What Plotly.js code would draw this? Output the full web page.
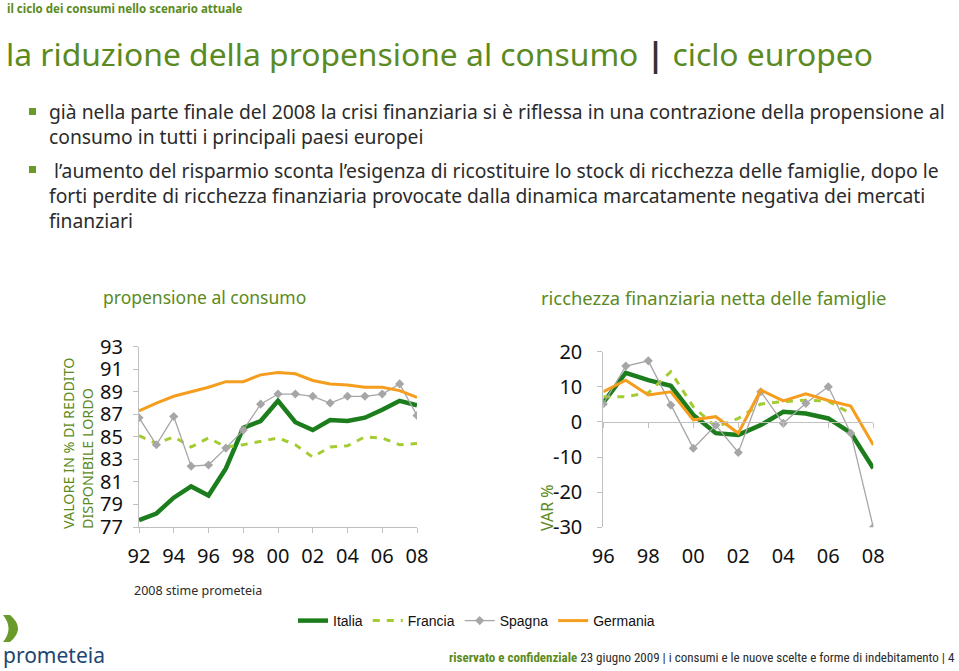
<!DOCTYPE html>
<html>
<head>
<meta charset="utf-8">
<script src="https://cdn.plot.ly/plotly-3.0.1.min.js"></script>
<style>
html,body{margin:0;padding:0;background:#fff;}
#chart{width:959px;height:671px;}
</style>
</head>
<body>
<div id="chart"></div>
<script>
// ---- data ----
const yearsLeft = [1992,1993,1994,1995,1996,1997,1998,1999,2000,2001,2002,2003,2004,2005,2006,2007,2008];
const italiaLeft   = [77.6,78.2,79.6,80.6,79.8,82.2,85.8,86.4,88.2,86.3,85.6,86.5,86.4,86.7,87.4,88.2,87.8];
const franciaLeft  = [85.1,84.4,85.0,84.1,84.9,84.1,84.3,84.6,84.9,84.3,83.2,84.1,84.2,85.0,84.9,84.3,84.4];
const spagnaLeft   = [86.7,84.3,86.8,82.4,82.5,84.0,85.6,87.9,88.8,88.8,88.6,88.0,88.6,88.6,88.8,89.7,86.9];
const germaniaLeft = [87.3,88.0,88.6,89.0,89.4,89.9,89.9,90.5,90.7,90.6,90.0,89.7,89.6,89.4,89.4,89.1,88.5];

const yearsRight = [1996,1997,1998,1999,2000,2001,2002,2003,2004,2005,2006,2007,2008];
const italiaRight   = [5.5,14.0,11.9,10.3,2.0,-3.2,-3.7,-0.9,2.9,2.4,1.0,-3.1,-13.2];
const franciaRight  = [7.2,7.2,8.3,14.3,4.3,-1.4,1.0,5.1,5.8,6.2,5.9,2.4,null];
const spagnaRight   = [5.1,15.9,17.4,4.8,-7.5,-0.9,-8.7,8.6,-0.4,5.3,10.0,-3.2,-30.0];
const germaniaRight = [8.6,11.9,7.7,8.6,0.6,1.5,-3.2,9.1,6.0,8.0,6.1,4.5,-6.6];

const tickValsLeft  = [1992,1994,1996,1998,2000,2002,2004,2006,2008];
const tickTextLeft  = ['92','94','96','98','00','02','04','06','08'];
const tickValsRight = [1996,1998,2000,2002,2004,2006,2008];
const tickTextRight = ['96','98','00','02','04','06','08'];
const yTickValsRight = [-30,-20,-10,0,10,20];
const yTickTextRight = ['-30','-20','-10','0','10','20'];

const seriesNames = ['Italia','Francia','Spagna','Germania'];

// ---- styling helpers ----
const W = 959, H = 671;
const px = x => x / W;
const py = y => 1 - y / H;
const GREEN = '#5b8a22';
const DARK = '#2b2b2b';
const AXIS = '#c0c0c0';
const FONT = 'Noto Sans, Open Sans, sans-serif';

const cItalia = '#1c7d1c', cFrancia = '#a3cc33', cSpagna = '#a6a6a6', cGermania = '#f59d1e';

function mk(x, y, name, xa, ya, show) {
  const base = {x: x, y: y, name: name, xaxis: xa, yaxis: ya, showlegend: show, mode: 'lines', hoverinfo: 'skip'};
  if (name === 'Italia') base.line = {color: cItalia, width: 4.5};
  if (name === 'Francia') base.line = {color: cFrancia, width: 3, dash: '7px,7px'};
  if (name === 'Spagna') { base.mode = 'lines+markers'; base.line = {color: cSpagna, width: 1.3}; base.marker = {symbol: 'diamond', size: 7, color: cSpagna}; }
  if (name === 'Germania') base.line = {color: cGermania, width: 3};
  return base;
}

const traces = [
  mk(yearsLeft, italiaLeft, seriesNames[0], 'x', 'y', true),
  mk(yearsLeft, franciaLeft, seriesNames[1], 'x', 'y', true),
  mk(yearsLeft, spagnaLeft, seriesNames[2], 'x', 'y', true),
  mk(yearsLeft, germaniaLeft, seriesNames[3], 'x', 'y', true),
  mk(yearsRight, italiaRight, seriesNames[0], 'x2', 'y2', false),
  mk(yearsRight, franciaRight, seriesNames[1], 'x2', 'y2', false),
  mk(yearsRight, spagnaRight, seriesNames[2], 'x2', 'y2', false),
  mk(yearsRight, germaniaRight, seriesNames[3], 'x2', 'y2', false)
];

const tickFont = {family: FONT, size: 20, color: '#111'};
const y2dom = [py(527.3), py(351.7)];
const y2range = [-30, 20];
const zeroPos = y2dom[0] + (0 - y2range[0]) / (y2range[1] - y2range[0]) * (y2dom[1] - y2dom[0]);

const ann = [];
function txt(t, x, y, size, color, opts) {
  ann.push(Object.assign({text: t, x: px(x), y: py(y), xref: 'paper', yref: 'paper', showarrow: false,
    xanchor: 'left', yanchor: 'middle', font: {family: FONT, size: size, color: color}}, opts || {}));
}
txt('<b>il ciclo dei consumi nello scenario attuale</b>', 5, 9, 11.5, GREEN);
txt('la riduzione della propensione al consumo <span style="color:#333"><b>|</b></span> ciclo europeo', 4, 53, 31.8, GREEN);
txt('già nella parte finale del 2008 la crisi finanziaria si è riflessa in una contrazione della propensione al<br>consumo in tutti i principali paesi europei', 47, 124, 19.3, DARK, {align: 'left'});
txt(' l’aumento del risparmio sconta l’esigenza di ricostituire lo stock di ricchezza delle famiglie, dopo le<br>forti perdite di ricchezza finanziaria provocate dalla dinamica marcatamente negativa dei mercati<br>finanziari', 47, 195, 19.3, DARK, {align: 'left'});
txt('propensione al consumo', 101, 297, 17.5, GREEN);
txt('ricchezza finanziaria netta delle famiglie', 539, 297, 18.4, GREEN);
txt('VALORE IN % DI REDDITO<br>DISPONIBILE LORDO', 78, 443, 14.3, GREEN, {xanchor: 'center', textangle: -90, align: 'left', borderpad: 0});
txt('VAR %', 547, 508, 16, GREEN, {xanchor: 'center', textangle: -90, borderpad: 0});
txt('2008 stime prometeia', 132, 590, 12.5, DARK);
txt('prometeia', 1, 655, 21, '#1d4673');
txt('<b><span style="color:' + GREEN + '">riservato e confidenziale</span></b> 23 giugno 2009 | i consumi e le nuove scelte e forme di indebitamento | 4', 957, 657, 13, DARK, {xanchor: 'right', font: {family: 'Liberation Sans Narrow, Roboto Condensed, Noto Sans, sans-serif', size: 13, color: DARK}});

const shapes = [];
// bullets
[112, 170].forEach(function (yy) {
  shapes.push({type: 'rect', xref: 'paper', yref: 'paper', x0: px(29), x1: px(36), y0: py(yy - 4), y1: py(yy + 3),
    fillcolor: '#6a9a2a', line: {width: 0}});
});
// logo chevron
shapes.push({type: 'path', xref: 'paper', yref: 'paper', fillcolor: '#6a9a2a', line: {width: 0},
  path: 'M ' + px(3) + ',' + py(615) + ' L ' + px(10) + ',' + py(615) + ' Q ' + px(26) + ',' + py(628.5) + ' ' + px(10) + ',' + py(642) +
        ' L ' + px(3) + ',' + py(642) + ' Q ' + px(14) + ',' + py(628.5) + ' ' + px(3) + ',' + py(615) + ' Z'});

const layout = {
  width: W, height: H,
  margin: {l: 0, r: 0, t: 0, b: 0},
  paper_bgcolor: '#fff', plot_bgcolor: 'rgba(0,0,0,0)',
  showlegend: true,
  legend: {orientation: 'h', x: px(293), y: py(621), xanchor: 'left', yanchor: 'middle',
    font: {family: 'Liberation Sans, Arial, sans-serif', size: 14, color: '#111'}, bgcolor: 'rgba(0,0,0,0)',
    tracegroupgap: 0, itemwidth: 30},
  xaxis: {domain: [px(139), px(417)], range: [1992, 2008], anchor: 'y', tickvals: tickValsLeft, ticktext: tickTextLeft,
    showline: true, linecolor: AXIS, linewidth: 1, ticks: 'outside', ticklen: 5, tickcolor: AXIS, showgrid: false, zeroline: false,
    tickfont: tickFont, ticklabelstandoff: 6, fixedrange: true},
  yaxis: {domain: [py(527), py(346.7)], range: [77, 93], anchor: 'x', tickmode: 'linear', tick0: 77, dtick: 2,
    showline: true, linecolor: AXIS, linewidth: 1, ticks: 'outside', ticklen: 5, tickcolor: AXIS, showgrid: false, zeroline: false,
    tickfont: tickFont, ticklabelstandoff: 6, fixedrange: true},
  xaxis2: {domain: [px(603.3), px(873.3)], range: [1996, 2008], anchor: 'free', position: zeroPos, tickvals: tickValsRight, ticktext: tickTextRight,
    showline: true, linecolor: AXIS, linewidth: 1, ticks: 'outside', ticklen: 5, tickcolor: AXIS, showgrid: false, zeroline: false,
    tickfont: tickFont, ticklabelstandoff: 111, fixedrange: true},
  yaxis2: {domain: y2dom, range: y2range, anchor: 'x2', tickvals: yTickValsRight, ticktext: yTickTextRight,
    showline: true, linecolor: AXIS, linewidth: 1, ticks: 'outside', ticklen: 5, tickcolor: AXIS, showgrid: false, zeroline: false,
    tickfont: tickFont, ticklabelstandoff: 11, fixedrange: true},
  annotations: ann,
  shapes: shapes
};

Plotly.newPlot('chart', traces, layout, {displayModeBar: false, staticPlot: true});
</script>
</body>
</html>
